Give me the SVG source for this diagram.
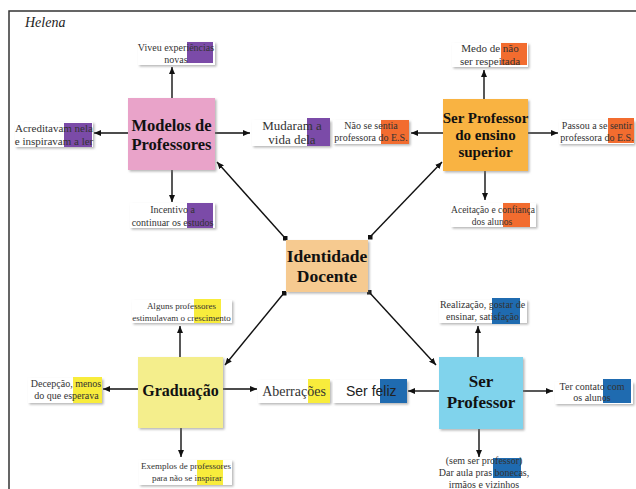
<svg xmlns="http://www.w3.org/2000/svg" width="636" height="489" viewBox="0 0 636 489">
<style>
.frame{fill:none;stroke:#333;stroke-width:1.5}
.title{font-family:"Liberation Serif",serif;font-style:italic;font-size:14px;fill:#222}
.node{filter:url(#sh)}
.nt{font-family:"Liberation Serif",serif;font-weight:bold;fill:#111;text-anchor:middle}
.lbl{fill:#fff;filter:url(#sh)}
.lt{font-family:"Liberation Serif",serif;fill:#333;text-anchor:middle}
.pur{fill:#7B4BA8}
.org{fill:#F26C2F}
.yel{fill:#F8EC3C}
.blu{fill:#1F6BB0}
.c{fill:none;stroke:#111;stroke-width:1.4;marker-end:url(#ah)}
.d{marker-start:url(#dot)}
</style>
<defs>
<filter id="sh" x="-10%" y="-10%" width="125%" height="130%">
<feDropShadow dx="1.5" dy="1.5" stdDeviation="1" flood-color="#777" flood-opacity="0.55"/>
</filter>
<marker id="ah" markerUnits="userSpaceOnUse" markerWidth="7" markerHeight="6" refX="7" refY="3" orient="auto">
<path d="M0,0 L7,3 L0,6 z" fill="#111"/>
</marker>
<marker id="dot" markerUnits="userSpaceOnUse" markerWidth="5" markerHeight="5" refX="2.5" refY="2.5" orient="0">
<rect x="0" y="0" width="5" height="5" fill="#111"/>
</marker>
</defs>
<rect width="636" height="489" fill="#fff"/>
<path class="frame" d="M9,489 V11 H636"/>
<text class="title" x="25" y="27">Helena</text>

<g id="connectors">
<path class="c" d="M172,98 V67"/>
<path class="c" d="M128,133 H94"/>
<path class="c" d="M215,133 H250"/>
<path class="c" d="M172,170 V202"/>
<path class="c" d="M484,99 V70"/>
<path class="c" d="M443,133 H411"/>
<path class="c" d="M528,133 H558"/>
<path class="c" d="M485,171 V200"/>
<path class="c" d="M180,357 V326"/>
<path class="c" d="M138,389 H103"/>
<path class="c" d="M223,389 H257"/>
<path class="c" d="M181,428 V457"/>
<path class="c" d="M478,357 V326"/>
<path class="c" d="M439,391 H408"/>
<path class="c" d="M523,391 H553"/>
<path class="c" d="M479,429 V457"/>
<path class="c d" d="M285,238 L217,162"/>
<path class="c d" d="M370,237 L442,162"/>
<path class="c d" d="M284,293 L225,365"/>
<path class="c d" d="M369,292 L436,365"/>
</g>

<g id="modelos">
<rect class="node" x="128" y="98" width="87" height="72" fill="#E9A3C9"/>
<text class="nt" style="font-size:16.5px" x="171.5" y="131">Modelos de</text>
<text class="nt" style="font-size:16.5px" x="171.5" y="150">Professores</text>
</g>
<g id="ensino">
<rect class="node" x="443" y="99" width="85" height="72" fill="#F9B343"/>
<text class="nt" style="font-size:15px" x="485.5" y="123">Ser Professor</text>
<text class="nt" style="font-size:15px" x="485.5" y="140">do ensino</text>
<text class="nt" style="font-size:15px" x="485.5" y="157">superior</text>
</g>
<g id="identidade">
<rect class="node" x="286" y="240" width="82" height="52" fill="#F6CA90"/>
<text class="nt" style="font-size:17.5px" x="327" y="262">Identidade</text>
<text class="nt" style="font-size:17.5px" x="327" y="282">Docente</text>
</g>
<g id="graduacao">
<rect class="node" x="138" y="357" width="85" height="71" fill="#F4EE8C"/>
<text class="nt" style="font-size:16px" x="180.5" y="396">Graduação</text>
</g>
<g id="serprofessor">
<rect class="node" x="439" y="357" width="84" height="72" fill="#80D3EC"/>
<text class="nt" style="font-size:17px" x="481" y="387">Ser</text>
<text class="nt" style="font-size:17px" x="481" y="408">Professor</text>
</g>

<g id="viveu">
<rect class="lbl" x="138" y="42" width="77" height="23"/>
<rect class="pur" x="187" y="42" width="26" height="21"/>
<text class="lt" style="font-size:10px" x="176" y="51">Viveu experiências</text>
<text class="lt" style="font-size:10px" x="176" y="63">novas</text>
</g>
<g id="acreditavam">
<rect class="lbl" x="15" y="122" width="78" height="25"/>
<rect class="pur" x="64" y="123" width="28" height="24"/>
<text class="lt" style="font-size:11px" x="54" y="132">Acreditavam nela</text>
<text class="lt" style="font-size:11px" x="54" y="145">e inspiravam a ler</text>
</g>
<g id="mudaram">
<rect class="lbl" x="252" y="120" width="78" height="26"/>
<rect class="pur" x="307" y="118" width="23" height="28"/>
<text class="lt" style="font-size:13px" x="292" y="130">Mudaram a</text>
<text class="lt" style="font-size:13px" x="292" y="144">vida dela</text>
</g>
<g id="incentivo">
<rect class="lbl" x="130" y="203" width="85" height="25"/>
<rect class="pur" x="187" y="203" width="26" height="25"/>
<text class="lt" style="font-size:10px" x="172.5" y="213">Incentivo a</text>
<text class="lt" style="font-size:10px" x="172.5" y="226">continuar os estudos</text>
</g>
<g id="medo">
<rect class="lbl" x="452" y="43" width="76" height="24"/>
<rect class="org" x="501" y="43" width="26" height="22"/>
<text class="lt" style="font-size:11px" x="490" y="52">Medo de não</text>
<text class="lt" style="font-size:11px" x="490" y="65">ser respeitada</text>
</g>
<g id="naosesentia">
<rect class="lbl" x="333" y="120" width="76" height="24"/>
<rect class="org" x="381" y="120" width="28" height="24"/>
<text class="lt" style="font-size:10px" x="371" y="129">Não se sentia</text>
<text class="lt" style="font-size:10px" x="371" y="141">professora do E.S.</text>
</g>
<g id="passou">
<rect class="lbl" x="559" y="120" width="75" height="24"/>
<rect class="org" x="608" y="118" width="26" height="25"/>
<text class="lt" style="font-size:10px" x="597" y="129">Passou a se sentir</text>
<text class="lt" style="font-size:10px" x="597" y="141">professora do E.S.</text>
</g>
<g id="aceitacao">
<rect class="lbl" x="451" y="203" width="85" height="24"/>
<rect class="org" x="503" y="203" width="27" height="24"/>
<text class="lt" style="font-size:9.5px" x="493" y="213">Aceitação e confiança</text>
<text class="lt" style="font-size:9.5px" x="492" y="225">dos alunos</text>
</g>
<g id="alguns">
<rect class="lbl" x="132" y="300" width="100" height="23"/>
<rect class="yel" x="194" y="299" width="27" height="24"/>
<text class="lt" style="font-size:9px" x="181.5" y="309">Alguns professores</text>
<text class="lt" style="font-size:9px" x="181.5" y="321">estimulavam o crescimento</text>
</g>
<g id="decepcao">
<rect class="lbl" x="28" y="378" width="74" height="25"/>
<rect class="yel" x="73" y="377" width="29" height="26"/>
<text class="lt" style="font-size:10px" x="66" y="387">Decepção, menos</text>
<text class="lt" style="font-size:10px" x="66.5" y="399">do que esperava</text>
</g>
<g id="aberracoes">
<rect class="lbl" x="258" y="380" width="72" height="23"/>
<rect class="yel" x="308" y="379" width="22" height="24"/>
<text class="lt" style="font-size:14px" x="294" y="396">Aberrações</text>
</g>
<g id="exemplos">
<rect class="lbl" x="139" y="460" width="93" height="25"/>
<rect class="yel" x="197" y="460" width="26" height="25"/>
<text class="lt" style="font-size:9px" x="186" y="469">Exemplos de professores</text>
<text class="lt" style="font-size:9px" x="187" y="481">para não se inspirar</text>
</g>
<g id="realizacao">
<rect class="lbl" x="439" y="300" width="88" height="23"/>
<rect class="blu" x="492" y="298" width="28" height="26"/>
<text class="lt" style="font-size:10px" x="482.5" y="308">Realização, gostar de</text>
<text class="lt" style="font-size:10px" x="482.5" y="320">ensinar, satisfação</text>
</g>
<g id="serfeliz">
<rect class="lbl" x="333" y="380" width="74" height="23"/>
<rect class="blu" x="380" y="379" width="27" height="24"/>
<text x="346" y="396" font-family="Liberation Sans, Arial, sans-serif" font-size="14" fill="#222">Ser feliz</text>
</g>
<g id="tercontato">
<rect class="lbl" x="555" y="382" width="78" height="22"/>
<rect class="blu" x="603" y="379" width="28" height="24"/>
<text class="lt" style="font-size:10px" x="592" y="390">Ter contato com</text>
<text class="lt" style="font-size:10px" x="592" y="401">os alunos</text>
</g>
<g id="semser">
<rect class="blu" x="493" y="458" width="28" height="20"/>
<text class="lt" style="font-size:10px" x="484" y="464">(sem ser professor)</text>
<text class="lt" style="font-size:10px" x="484" y="476">Dar aula pras bonecas,</text>
<text class="lt" style="font-size:10px" x="484" y="488">irmãos e vizinhos</text>
</g>
</svg>
